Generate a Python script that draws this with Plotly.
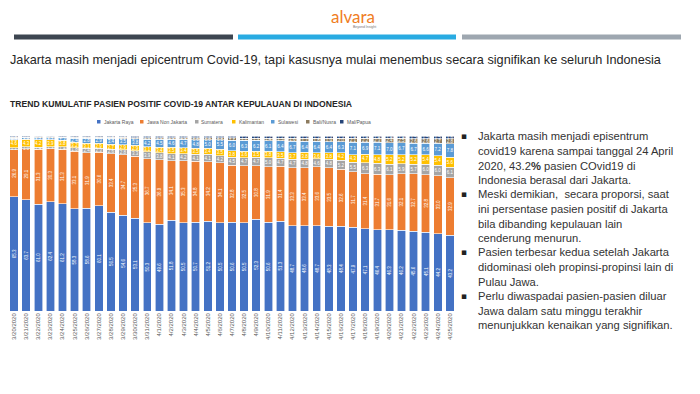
import plotly.graph_objects as go

dates = ["3/20/2020","3/21/2020","3/22/2020","3/23/2020","3/24/2020","3/25/2020","3/26/2020",
         "3/27/2020","3/28/2020","3/29/2020","3/30/2020","3/31/2020","4/1/2020","4/2/2020",
         "4/3/2020","4/4/2020","4/5/2020","4/6/2020","4/7/2020","4/8/2020","4/9/2020",
         "4/10/2020","4/11/2020","4/12/2020","4/13/2020","4/14/2020","4/15/2020","4/16/2020",
         "4/17/2020","4/18/2020","4/19/2020","4/20/2020","4/21/2020","4/22/2020","4/23/2020",
         "4/24/2020","4/25/2020"]

jakarta = [65.3,63.7,61.0,62.4,61.2,58.3,58.6,60.1,56.5,54.6,53.1,50.3,49.6,51.8,50.5,50.7,51.2,
           50.5,50.6,50.5,52.3,50.6,51.3,48.7,48.6,48.7,48.3,48.4,47.9,47.1,46.4,46.3,46.2,45.6,
           45.1,44.2,43.2]
jawa_non_jakarta = [26.9,29.1,31.3,30.3,31.3,33.1,31.9,30.6,33.4,34.7,35.3,36.7,36.9,34.1,35.3,34.8,
                    34.2,34.1,32.8,32.5,30.8,31.9,31.4,33.3,33.4,33.6,33.5,32.6,31.7,31.4,31.7,31.6,
                    32.1,32.7,32.8,33.0,32.9]
sumatera = [1.2,1.0,1.4,1.3,1.4,1.8,2.4,2.3,2.6,2.8,3.3,3.9,3.8,4.1,4.2,4.1,4.1,4.2,4.5,4.7,4.7,
            5.0,4.7,4.7,4.8,4.6,4.8,5.2,5.5,6.3,6.3,6.1,5.9,5.7,6.0,6.0,6.1]
kalimantan = [4.6,4.3,4.2,3.9,3.8,3.2,3.1,2.9,2.7,2.9,2.9,3.1,3.4,3.5,3.4,3.5,3.4,3.5,3.8,3.6,3.5,
              3.8,3.5,3.7,3.8,3.6,3.8,4.2,4.3,4.7,4.8,5.2,5.2,5.2,5.4,5.4,5.6]
sulawesi = [0.8,1.0,1.2,1.2,1.3,2.4,2.8,2.9,3.4,3.5,3.8,4.2,4.5,4.6,4.7,4.8,5.0,5.5,6.0,6.3,6.2,
            6.1,6.4,6.7,6.4,6.4,6.4,6.3,7.1,6.9,7.1,7.0,6.7,6.7,6.6,7.2,7.8]
bali_nusra = [0.4,0.3,0.4,0.4,0.4,0.5,0.5,0.5,0.6,0.7,0.7,0.8,0.8,0.9,0.9,1.0,1.0,1.1,1.2,1.2,1.3,
              1.4,1.5,1.6,1.7,1.8,1.9,2.0,2.1,2.2,2.3,2.4,2.5,2.6,2.6,2.7,2.8]
mal_papua = [0.8,0.6,0.5,0.5,0.6,0.7,0.7,0.7,0.8,0.8,0.9,1.0,1.0,1.0,1.0,1.1,1.1,1.1,1.1,1.2,1.2,
             1.2,1.2,1.3,1.3,1.3,1.3,1.3,1.4,1.4,1.4,1.4,1.4,1.5,1.5,1.5,1.6]

series_names = ["Jakarta Raya", "Jawa Non Jakarta", "Sumatera", "Kalimantan", "Sulawesi",
                "Bali/Nusra", "Mal/Papua"]
series_values = [jakarta, jawa_non_jakarta, sumatera, kalimantan, sulawesi, bali_nusra, mal_papua]
colors = ["#4472c4", "#ed7d31", "#a5a5a5", "#ffc000", "#5b9bd5", "#8c7b5e", "#264478"]

fig = go.Figure()
for i, (name, vals, col) in enumerate(zip(series_names, series_values, colors)):
    big = i < 2
    fig.add_trace(go.Bar(
        x=dates, y=vals, name=name,
        marker=dict(color=col, line=dict(color="white", width=0.6)),
        text=[f"{v:.1f}" for v in vals],
        textposition="inside", insidetextanchor="middle",
        textangle=-90 if big else 0,
        textfont=dict(color="white", size=5, family="Liberation Sans"),
        showlegend=False,
    ))

fig.update_layout(
    barmode="stack", bargap=0.3,
    width=700, height=394,
    margin=dict(l=0, r=0, t=0, b=0),
    paper_bgcolor="white", plot_bgcolor="white",
    uniformtext=dict(mode="show", minsize=4.5),
    xaxis=dict(domain=[8/700, 456/700], type="category", tickangle=-90,
               tickfont=dict(size=6, color="#595959", family="Liberation Sans"),
               showgrid=False, showline=False, ticks="", ticklen=0),
    yaxis=dict(domain=[(394-311)/394, (394-136)/394], range=[0, 100],
               visible=False, showgrid=False),
    font=dict(family="Liberation Sans"),
)

shapes = []
annotations = []

# header bars
for x0, x1, c in [(14, 233, "#3d4651"), (238, 456, "#29abe2"), (462, 681, "#9ea7b0")]:
    shapes.append(dict(type="rect", xref="paper", yref="paper",
                       x0=x0/700, x1=x1/700, y0=(394-39.5)/394, y1=(394-34.5)/394,
                       fillcolor=c, line=dict(width=0)))

# logo
annotations.append(dict(text="alvara", x=353/700, y=(394-16)/394, xref="paper", yref="paper",
                        showarrow=False, xanchor="center", yanchor="middle",
                        font=dict(size=17, color="#f07d1f", family="Lato")))
annotations.append(dict(text="Beyond Insight", x=364/700, y=(394-27)/394, xref="paper", yref="paper",
                        showarrow=False, xanchor="center", yanchor="middle",
                        font=dict(size=3.5, color="#777777", family="Liberation Sans")))

# main title
annotations.append(dict(text="Jakarta masih menjadi epicentrum Covid-19, tapi kasusnya mulai menembus secara signifikan ke seluruh Indonesia",
                        x=8/700, y=(394-60)/394, xref="paper", yref="paper", showarrow=False,
                        xanchor="left", yanchor="middle",
                        font=dict(size=12.7, color="#262626", family="Liberation Sans")))

# chart title
annotations.append(dict(text="<b>TREND KUMULATIF PASIEN POSITIF COVID-19 ANTAR KEPULAUAN DI INDONESIA</b>",
                        x=8/700, y=(394-104)/394, xref="paper", yref="paper", showarrow=False,
                        xanchor="left", yanchor="middle",
                        font=dict(size=8.6, color="#262626", family="Liberation Sans")))

# legend
legend_x = [97, 140, 195, 232, 271, 306, 340]
for name, col, lx in zip(series_names, colors, legend_x):
    shapes.append(dict(type="rect", xref="paper", yref="paper",
                       x0=lx/700, x1=(lx+3.5)/700, y0=(394-123.5)/394, y1=(394-120)/394,
                       fillcolor=col, line=dict(width=0)))
    annotations.append(dict(text=name, x=(lx+4.5)/700, y=(394-121.8)/394, xref="paper", yref="paper",
                            showarrow=False, xanchor="left", yanchor="middle",
                            font=dict(size=5, color="#595959", family="Liberation Sans")))

# right side notes
lines = [
    ("Jakarta masih menjadi episentrum", True),
    ("covid19 karena sampai tanggal 24 April", False),
    ("2020, 43.2<b>%</b> pasien COvid19 di", False),
    ("Indonesia berasal dari Jakarta.", False),
    ("Meski demikian,  secara proporsi, saat", True),
    ("ini persentase pasien positif di Jakarta", False),
    ("bila dibanding kepulauan lain", False),
    ("cenderung menurun.", False),
    ("Pasien terbesar kedua setelah Jakarta", True),
    ("didominasi oleh propinsi-propinsi lain di", False),
    ("Pulau Jawa.", False),
    ("Perlu diwaspadai pasien-pasien diluar", True),
    ("Jawa dalam satu minggu terakhir", False),
    ("menunjukkan kenaikan yang signifikan.", False),
]
for i, (t, bullet) in enumerate(lines):
    yy = 136.5 + 14.5 * i
    annotations.append(dict(text=t, x=476/700, y=(394-yy)/394, xref="paper", yref="paper",
                            showarrow=False, xanchor="left", yanchor="middle",
                            font=dict(size=11.2, color="#333333", family="Liberation Sans")))
    if bullet:
        annotations.append(dict(text="▪", x=464/700, y=(394-yy)/394, xref="paper", yref="paper",
                                showarrow=False, xanchor="center", yanchor="middle",
                                font=dict(size=9, color="#222222", family="DejaVu Sans")))

fig.update_layout(shapes=shapes, annotations=annotations)
fig.write_html("out.html", config={"displayModeBar": False},
               post_script="document.body.style.margin='0';document.body.style.padding='0';")
